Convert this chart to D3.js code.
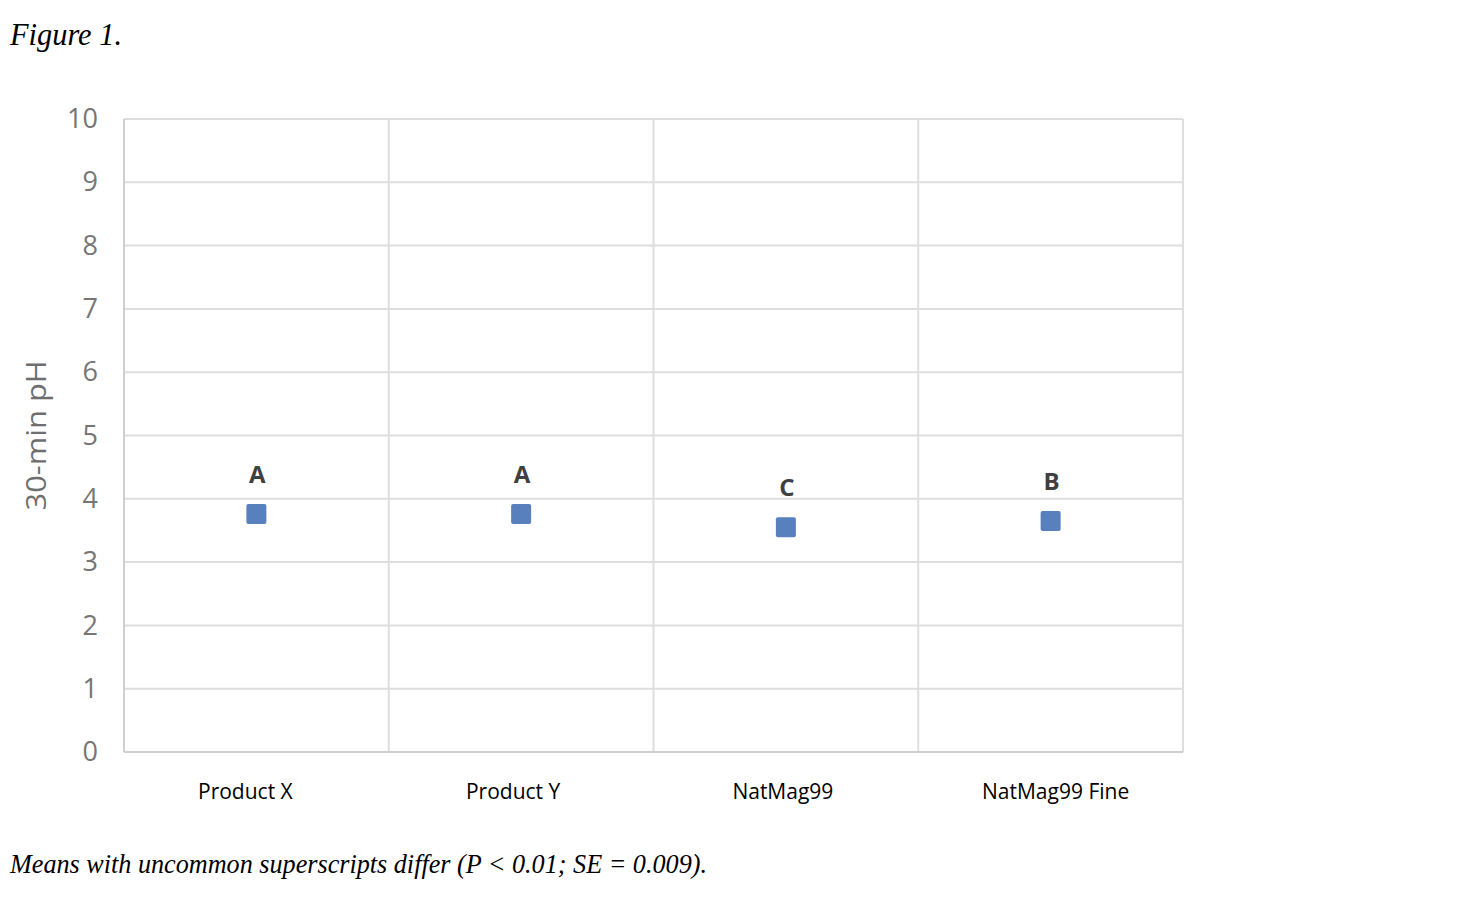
<!DOCTYPE html>
<html>
<head>
<meta charset="utf-8">
<script src="https://cdn.jsdelivr.net/npm/d3@7"></script>
<style>
    body { margin: 0; background: #ffffff; }
    #vis-container { width: 1470px; height: 910px; }
</style>
</head>
<body>
<div id="vis-container"></div>
<script>
// Chart data
const categories = ["Product X", "Product Y", "NatMag99", "NatMag99 Fine"];
const phValues = [3.76, 3.76, 3.55, 3.65];
const superscripts = ["A", "A", "C", "B"];
const yTicks = [0, 1, 2, 3, 4, 5, 6, 7, 8, 9, 10];

function main()
{
    // Plot area
    const plot = { left: 124, right: 1183, top: 119, bottom: 752 };

    const svg = d3.select("#vis-container")
        .append("svg")
        .attr("width", 1470)
        .attr("height", 910);

    // Scales
    const xScale = d3.scaleBand()
        .domain(categories)
        .range([plot.left, plot.right]);

    const yScale = d3.scaleLinear()
        .domain([0, 10])
        .range([plot.bottom, plot.top]);

    // Horizontal gridlines
    svg.append("g")
        .selectAll("line")
        .data(yTicks.filter(d => d > 0))
        .enter()
        .append("line")
        .attr("x1", plot.left)
        .attr("x2", plot.right)
        .attr("y1", d => yScale(d))
        .attr("y2", d => yScale(d))
        .attr("stroke", "#dedede")
        .attr("stroke-width", 2);

    // Vertical gridlines between categories
    svg.append("g")
        .selectAll("line")
        .data(categories.slice(1))
        .enter()
        .append("line")
        .attr("x1", d => xScale(d))
        .attr("x2", d => xScale(d))
        .attr("y1", plot.top)
        .attr("y2", plot.bottom)
        .attr("stroke", "#dedede")
        .attr("stroke-width", 2);

    // Right border
    svg.append("line")
        .attr("x1", plot.right)
        .attr("x2", plot.right)
        .attr("y1", plot.top)
        .attr("y2", plot.bottom)
        .attr("stroke", "#dedede")
        .attr("stroke-width", 2);

    // Axes lines
    svg.append("line")
        .attr("x1", plot.left)
        .attr("x2", plot.left)
        .attr("y1", plot.top)
        .attr("y2", plot.bottom)
        .attr("stroke", "#cfcfcf")
        .attr("stroke-width", 2);

    svg.append("line")
        .attr("x1", plot.left)
        .attr("x2", plot.right)
        .attr("y1", plot.bottom)
        .attr("y2", plot.bottom)
        .attr("stroke", "#cfcfcf")
        .attr("stroke-width", 2);

    // Y axis tick labels
    const yAxis = d3.axisLeft(yScale)
        .tickValues(yTicks)
        .tickSize(0)
        .tickPadding(26)
        .tickFormat(d3.format("d"));

    const yAxisG = svg.append("g")
        .attr("transform", `translate(${plot.left}, 0)`)
        .call(yAxis);
    yAxisG.select(".domain").remove();
    yAxisG.selectAll("text")
        .attr("font-family", "'Open Sans', sans-serif")
        .attr("font-size", 27)
        .attr("fill", "#767676");

    // X axis labels
    const xAxis = d3.axisBottom(xScale)
        .tickSize(0)
        .tickPadding(32);

    const xAxisG = svg.append("g")
        .attr("transform", `translate(0, ${plot.bottom})`)
        .call(xAxis);
    xAxisG.select(".domain").remove();
    xAxisG.selectAll("text")
        .attr("font-family", "'Open Sans', sans-serif")
        .attr("font-size", 21)
        .attr("fill", "#000000")
        .attr("dx", (d, i) => [-11, -8, -3, 5][i]);

    // Y axis title
    svg.append("text")
        .attr("transform", `translate(46, ${(plot.top + plot.bottom) / 2 + 0}) rotate(-90)`)
        .attr("text-anchor", "middle")
        .attr("font-family", "'Open Sans', sans-serif")
        .attr("font-size", 28)
        .attr("fill", "#6e6e6e")
        .attr("textLength", 150)
        .attr("lengthAdjust", "spacingAndGlyphs")
        .text("30-min pH");

    // Markers
    const markerSize = 20;
    svg.append("g")
        .selectAll("rect")
        .data(phValues)
        .enter()
        .append("rect")
        .attr("x", (d, i) => xScale(categories[i]) + xScale.bandwidth() / 2 - markerSize / 2)
        .attr("y", d => yScale(d) - markerSize / 2)
        .attr("width", markerSize)
        .attr("height", markerSize)
        .attr("rx", 2)
        .attr("fill", "#5880bd");

    // Superscript letters
    svg.append("g")
        .selectAll("text")
        .data(phValues)
        .enter()
        .append("text")
        .attr("x", (d, i) => xScale(categories[i]) + xScale.bandwidth() / 2 + 1)
        .attr("y", d => yScale(d) - 31)
        .attr("text-anchor", "middle")
        .attr("font-family", "'Open Sans', sans-serif")
        .attr("font-weight", "bold")
        .attr("font-size", 24)
        .attr("fill", "#404040")
        .text((d, i) => superscripts[i]);

    // Figure title
    svg.append("text")
        .attr("x", 10)
        .attr("y", 45)
        .attr("font-family", "'Liberation Serif', serif")
        .attr("font-style", "italic")
        .attr("font-size", 31)
        .attr("fill", "#000000")
        .attr("textLength", 112)
        .attr("lengthAdjust", "spacingAndGlyphs")
        .text("Figure 1.");

    // Caption
    svg.append("text")
        .attr("x", 10)
        .attr("y", 873)
        .attr("font-family", "'Liberation Serif', serif")
        .attr("font-style", "italic")
        .attr("font-size", 28)
        .attr("fill", "#000000")
        .attr("textLength", 697)
        .attr("lengthAdjust", "spacingAndGlyphs")
        .text("Means with uncommon superscripts differ (P < 0.01; SE = 0.009).");
}

document.addEventListener("DOMContentLoaded", main);
</script>
</body>
</html>
